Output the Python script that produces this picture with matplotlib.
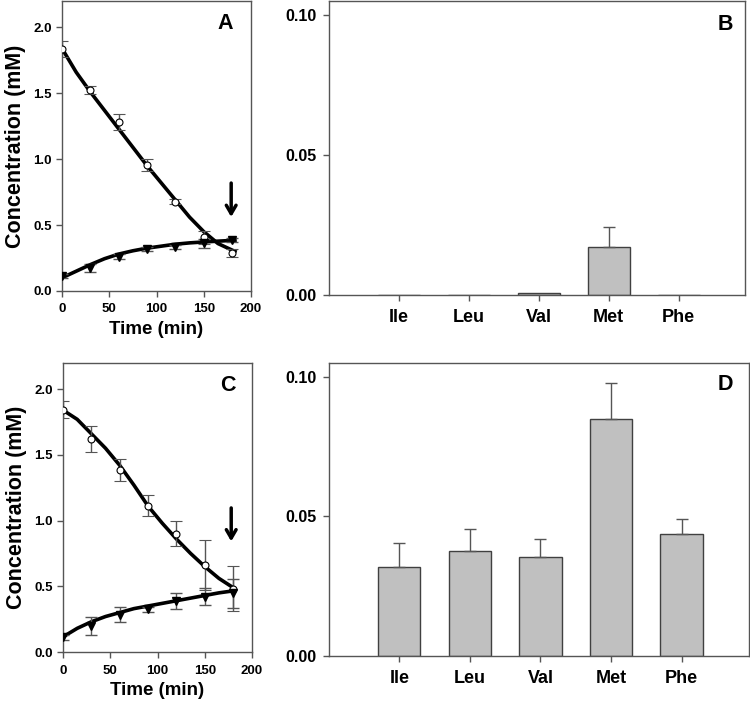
import numpy as np
import matplotlib
matplotlib.use("Agg")
import matplotlib.pyplot as plt

plt.rcParams['font.family'] = ['Liberation Sans', 'DejaVu Sans']
plt.rcParams['font.weight'] = 'bold'

# time course data (panels A and C)
time = [0, 30, 60, 90, 120, 150, 180]

a_circ = [1.838, 1.523, 1.283, 0.955, 0.677, 0.407, 0.285]
a_circ_err = [0.06, 0.03, 0.06, 0.045, 0.02, 0.05, 0.03]
a_tri = [0.114, 0.172, 0.26, 0.316, 0.333, 0.361, 0.386]
a_tri_err = [0.015, 0.03, 0.02, 0.015, 0.015, 0.035, 0.015]

c_circ = [1.844, 1.62, 1.383, 1.112, 0.90, 0.661, 0.481]
c_circ_err = [0.065, 0.10, 0.082, 0.08, 0.095, 0.19, 0.17]
c_tri = [0.112, 0.198, 0.284, 0.324, 0.39, 0.42, 0.446]
c_tri_err = [0.02, 0.065, 0.055, 0.02, 0.06, 0.065, 0.11]

# fitted curves
fit_t_a = [0, 15, 30, 45, 60, 75, 90, 105, 120, 135, 150, 165, 183]
fit_a_circ = [1.84, 1.66, 1.51, 1.37, 1.23, 1.09, 0.95, 0.82, 0.69, 0.56, 0.45, 0.36, 0.30]
fit_a_tri = [0.10, 0.15, 0.20, 0.245, 0.28, 0.305, 0.325, 0.34, 0.355, 0.365, 0.372, 0.378, 0.385]

fit_t_c = [0, 15, 30, 45, 60, 75, 90, 105, 120, 135, 150, 165, 180]
fit_c_circ = [1.84, 1.77, 1.66, 1.55, 1.42, 1.27, 1.11, 0.98, 0.86, 0.75, 0.65, 0.56, 0.49]
fit_c_tri = [0.115, 0.18, 0.23, 0.27, 0.30, 0.33, 0.35, 0.37, 0.39, 0.41, 0.43, 0.45, 0.465]

# amino acid bars (panels B and D)
amino = ["Ile", "Leu", "Val", "Met", "Phe"]
b_vals = [0.0, 0.0, 0.0006, 0.01725, 0.0]
b_err = [0.0, 0.0, 0.0, 0.0071, 0.0]
d_vals = [0.032, 0.0376, 0.0356, 0.0848, 0.0438]
d_err = [0.0085, 0.0079, 0.0063, 0.013, 0.0052]

spine_col = "#555555"
err_col = "#555555"

fig = plt.figure(figsize=(7.5, 7.02), dpi=100)


def style_axes(ax):
    for s in ax.spines.values():
        s.set_color(spine_col)
        s.set_linewidth(1.0)
    ax.tick_params(direction='out', color=spine_col, length=4, width=1)


def time_panel(rect, circ, circ_err, tri, tri_err, ft, fc, ftr, letter, lpos, arrow):
    ax = fig.add_axes(rect)
    ax.plot(ft, fc, color='black', lw=2.6, zorder=3)
    ax.plot(ft, ftr, color='black', lw=2.6, zorder=3)
    ax.errorbar(time, circ, yerr=circ_err, fmt='o', mfc='white', mec='black',
                ms=5, mew=0.8, ecolor=err_col, elinewidth=1, capsize=4, zorder=4)
    ax.errorbar(time, tri, yerr=tri_err, fmt='v', mfc='black', mec='black',
                ms=5.5, ecolor=err_col, elinewidth=1, capsize=4, zorder=4)
    ax.set_xlim(0, 200)
    ax.set_ylim(0, 2.2)
    ax.set_xticks([0, 50, 100, 150, 200])
    ax.set_yticks([0.0, 0.5, 1.0, 1.5, 2.0])
    ax.set_yticklabels(["0.0", "0.5", "1.0", "1.5", "2.0"])
    style_axes(ax)
    ax.tick_params(labelsize=9.5)
    ax.tick_params(axis='x', pad=5)
    ax.set_xlabel("Time (min)", fontsize=13.5, fontweight='bold', labelpad=4)
    ax.set_ylabel("Concentration (mM)", fontsize=15.5, fontweight='bold', labelpad=5)
    ax.text(lpos[0], lpos[1], letter, transform=ax.transAxes, fontsize=15.5,
            fontweight='bold', ha='center', va='center')
    ax.annotate("", xy=(arrow[0], arrow[2]), xytext=(arrow[0], arrow[1]),
                arrowprops=dict(arrowstyle='->,head_length=0.6,head_width=0.35',
                                lw=2.5, color='black'))
    return ax


def bar_panel(rect, vals, errs, letter, lpos):
    ax = fig.add_axes(rect)
    x = np.arange(1, len(amino) + 1)
    ax.bar(x, vals, width=0.6, color='#c0c0c0', edgecolor='#404040', lw=1, zorder=2)
    for xi, v, e in zip(x, vals, errs):
        if e > 0:
            ax.errorbar([xi], [v], yerr=[[0], [e]], fmt='none', ecolor=err_col,
                        elinewidth=1, capsize=4, zorder=3)
    ax.set_xlim(0, 5.95)
    ax.set_ylim(0, 0.105)
    ax.set_xticks(x)
    ax.set_xticklabels(amino, fontsize=13, fontweight='bold')
    ax.set_yticks([0.0, 0.05, 0.10])
    ax.set_yticklabels(["0.00", "0.05", "0.10"], fontsize=11.5, fontweight='bold')
    style_axes(ax)
    ax.tick_params(axis='x', pad=6)
    ax.tick_params(axis='y', pad=5)
    ax.text(lpos[0], lpos[1], letter, transform=ax.transAxes, fontsize=15.5,
            fontweight='bold', ha='center', va='center')
    return ax


time_panel([0.0827, 0.5855, 0.252, 0.413], a_circ, a_circ_err, a_tri, a_tri_err,
           fit_t_a, fit_a_circ, fit_a_tri, "A", (0.866, 0.924), (179, 0.84, 0.54))
time_panel([0.084, 0.0712, 0.252, 0.412], c_circ, c_circ_err, c_tri, c_tri_err,
           fit_t_c, fit_c_circ, fit_c_tri, "C", (0.871, 0.923), (178, 1.117, 0.82))
bar_panel([0.4383, 0.5798, 0.555, 0.4188], b_vals, b_err, "B", (0.952, 0.921))
bar_panel([0.4383, 0.0655, 0.560, 0.4178], d_vals, d_err, "D", (0.944, 0.927))

fig.savefig("out.png", dpi=100)
